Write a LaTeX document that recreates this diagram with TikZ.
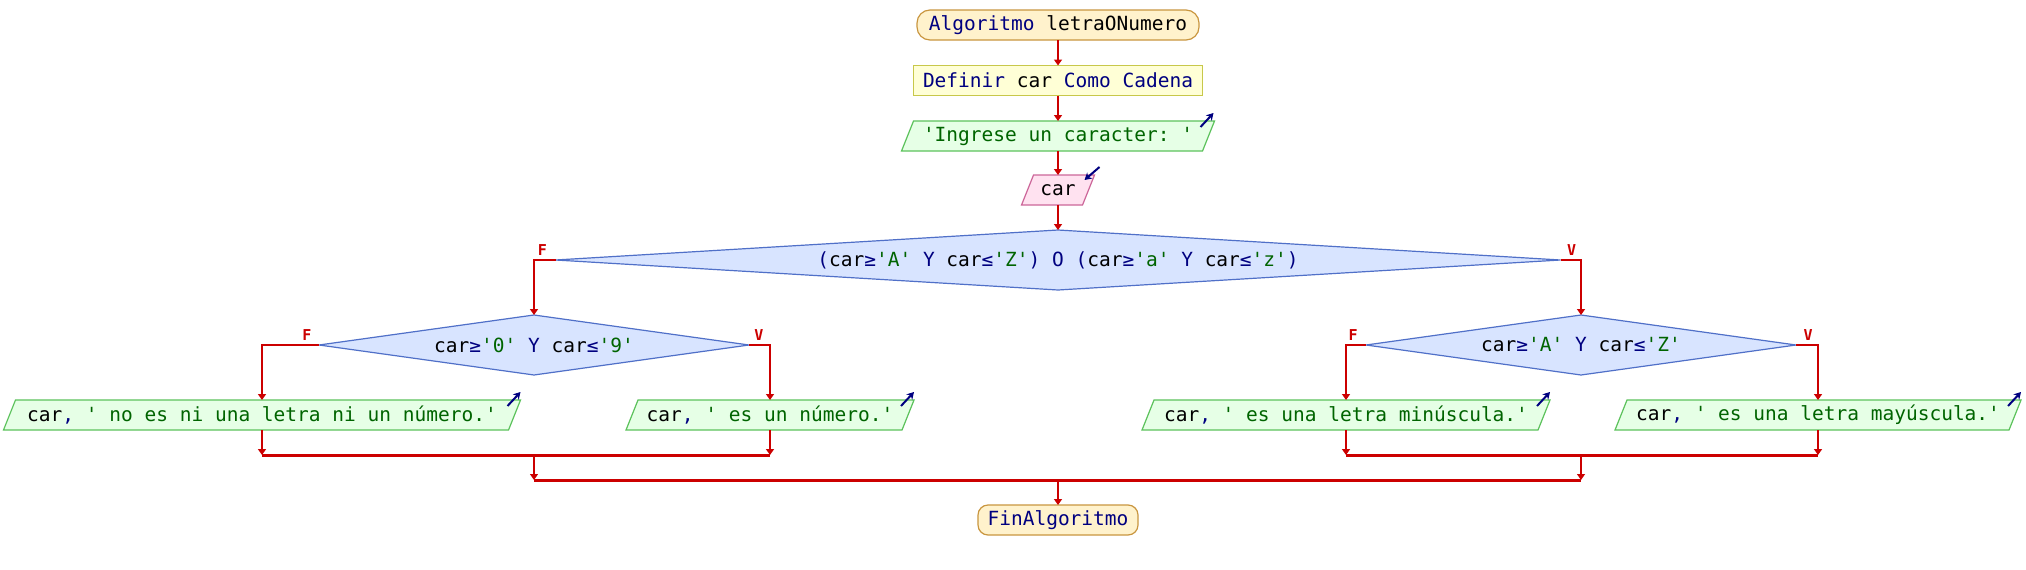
\documentclass[tikz,border=0pt]{standalone}
\usepackage{fontspec}
\setmonofont{DejaVu Sans Mono}
\usetikzlibrary{arrows.meta}
\definecolor{flow}{HTML}{CC0000}
\definecolor{kwc}{HTML}{000080}
\definecolor{strc}{HTML}{006400}
\definecolor{termfill}{HTML}{FFF2CC}
\definecolor{termdraw}{HTML}{C9963F}
\definecolor{deffill}{HTML}{FFFFD6}
\definecolor{defdraw}{HTML}{C8C84A}
\definecolor{outfill}{HTML}{E6FFE6}
\definecolor{outdraw}{HTML}{5CC25C}
\definecolor{infill}{HTML}{FFE2F0}
\definecolor{indraw}{HTML}{CC6699}
\definecolor{diafill}{HTML}{D8E4FF}
\definecolor{diadraw}{HTML}{5070C8}
\newcommand\kwd[1]{\textcolor{kwc}{#1}}
\newcommand\strg[1]{\textcolor{strc}{#1}}
% io box: name, cx, cy, mid width, fill, draw, text
\newcommand\iobox[7]{%
  \filldraw[fill=#5, draw=#6, line width=1.2pt]
    ({#2-#4/2-6},{#3+15}) -- ({#2+#4/2-6},{#3+15}) -- ({#2+#4/2+6},{#3-15}) -- ({#2-#4/2+6},{#3-15}) -- cycle;
  \node[hold, minimum width=#4pt, minimum height=30pt] (#1) at (#2,#3) {#7};}
% diamond: name, cx, cy, half width, text
\newcommand\diam[5]{%
  \filldraw[fill=diafill, draw=diadraw, line width=1.2pt]
    ({#2-#4},#3) -- (#2,{#3-30}) -- ({#2+#4},#3) -- (#2,{#3+30}) -- cycle;
  \node[hold, minimum width={2*#4pt}, minimum height=60pt] (#1) at (#2,#3) {#5};}
\begin{document}
\begin{tikzpicture}[x=1pt,y=-1pt,
  font=\ttfamily\fontsize{19.5}{24}\selectfont,
  hold/.style={inner sep=0pt, outer sep=0pt},
  term/.style={hold, draw=termdraw, fill=termfill, line width=1.2pt, rounded corners=13pt, minimum height=30pt},
  defbox/.style={hold, draw=defdraw, fill=deffill, line width=1.2pt, minimum height=30pt},
  ar/.style={draw=flow, line width=2pt, -{Triangle[width=8pt,length=6pt]}},
  thinar/.style={draw=flow, line width=1.2pt, -{Triangle[width=8pt,length=6pt]}},
  joinline/.style={draw=flow, line width=3pt},
  lbl/.style={hold, text=flow, font=\ttfamily\bfseries\fontsize{15}{15}\selectfont},
  ioar/.style={draw=kwc, line width=2pt, -{Stealth[width=8pt,length=7pt]}}]
\useasboundingbox[fill=white] (0,0) rectangle (2026,570);

\node[term, minimum width=282pt] (start) at (1058,25) {\kwd{Algoritmo} letraONumero};
\node[defbox, minimum width=289pt] (def) at (1058,80.5) {\kwd{Definir} car \kwd{Como} \kwd{Cadena}};
\iobox{ingr}{1058}{136}{301}{outfill}{outdraw}{\strg{'Ingrese un caracter: '}}
\iobox{read}{1058}{190}{61}{infill}{indraw}{car}
\diam{d1}{1058}{260}{502.5}{\kwd{(}car\kwd{≥}\strg{'A'} \kwd{Y} car\kwd{≤}\strg{'Z'}\kwd{)} \kwd{O} \kwd{(}car\kwd{≥}\strg{'a'} \kwd{Y} car\kwd{≤}\strg{'z'}\kwd{)}}
\diam{d2}{534}{345}{215}{car\kwd{≥}\strg{'0'} \kwd{Y} car\kwd{≤}\strg{'9'}}
\diam{d3}{1581}{345}{215}{car\kwd{≥}\strg{'A'} \kwd{Y} car\kwd{≤}\strg{'Z'}}
\iobox{o1}{262}{415}{505}{outfill}{outdraw}{car\kwd{,} \strg{' no es ni una letra ni un número.'}}
\iobox{o2}{770}{415}{276}{outfill}{outdraw}{car\kwd{,} \strg{' es un número.'}}
\iobox{o3}{1346}{415}{396}{outfill}{outdraw}{car\kwd{,} \strg{' es una letra minúscula.'}}
\iobox{o4}{1818}{415}{394}{outfill}{outdraw}{car\kwd{,} \strg{' es una letra mayúscula.'}}
\node[term, minimum width=160pt, rounded corners=10pt] (fin) at (1058,520) {\kwd{FinAlgoritmo}};

% in/out markers
\draw[ioar] ([shift={(-8,6)}]ingr.north east) -- ([shift={(5,-8)}]ingr.north east);
\draw[ioar] ([shift={(11,-8)}]read.north east) -- ([shift={(-4,5)}]read.north east);
\foreach \n in {o1,o2,o3,o4}
  \draw[ioar] ([shift={(-7,6)}]\n.north east) -- ([shift={(6,-8)}]\n.north east);

% main flow
\draw[ar] (start) -- (def);
\draw[ar] (def) -- (ingr);
\draw[ar] (ingr) -- (read);
\draw[ar] (read) -- (d1.north);
\draw[ar] (d1.west) -| (d2.north);
\draw[ar] (d1.east) -| (d3.north);
\draw[ar] (d2.west) -| (o1.north);
\draw[ar] (d2.east) -| (o2.north);
\draw[ar] (d3.west) -| (o3.north);
\draw[ar] (d3.east) -| (o4.north);

% labels
\node[lbl] (f1) at ([shift={(-13,-10)}]d1.west) {F};
\node[lbl] (v1) at ([shift={(11,-10)}]d1.east) {V};
\node[lbl] (f2) at ([shift={(-12,-10)}]d2.west) {F};
\node[lbl] (v2) at ([shift={(10,-10)}]d2.east) {V};
\node[lbl] (f3) at ([shift={(-13,-10)}]d3.west) {F};
\node[lbl] (v3) at ([shift={(12,-10)}]d3.east) {V};

% joins
\coordinate (jl) at (534,455);
\coordinate (jr) at (1581,455);
\coordinate (jm) at (1058,480);
\draw[ar] (o1.south) -- (o1.south |- jl);
\draw[ar] (o2.south) -- (o2.south |- jl);
\draw[ar] (o3.south) -- (o3.south |- jr);
\draw[ar] (o4.south) -- (o4.south |- jr);
\draw[joinline] (o1.south |- jl) -- (o2.south |- jl);
\draw[joinline] (o3.south |- jr) -- (o4.south |- jr);
\draw[thinar] (jl) -- (jl |- jm);
\draw[thinar] (jr) -- (jr |- jm);
\draw[joinline] (jl |- jm) -- (jr |- jm);
\draw[ar] (jm) -- (fin);
\end{tikzpicture}
\end{document}
